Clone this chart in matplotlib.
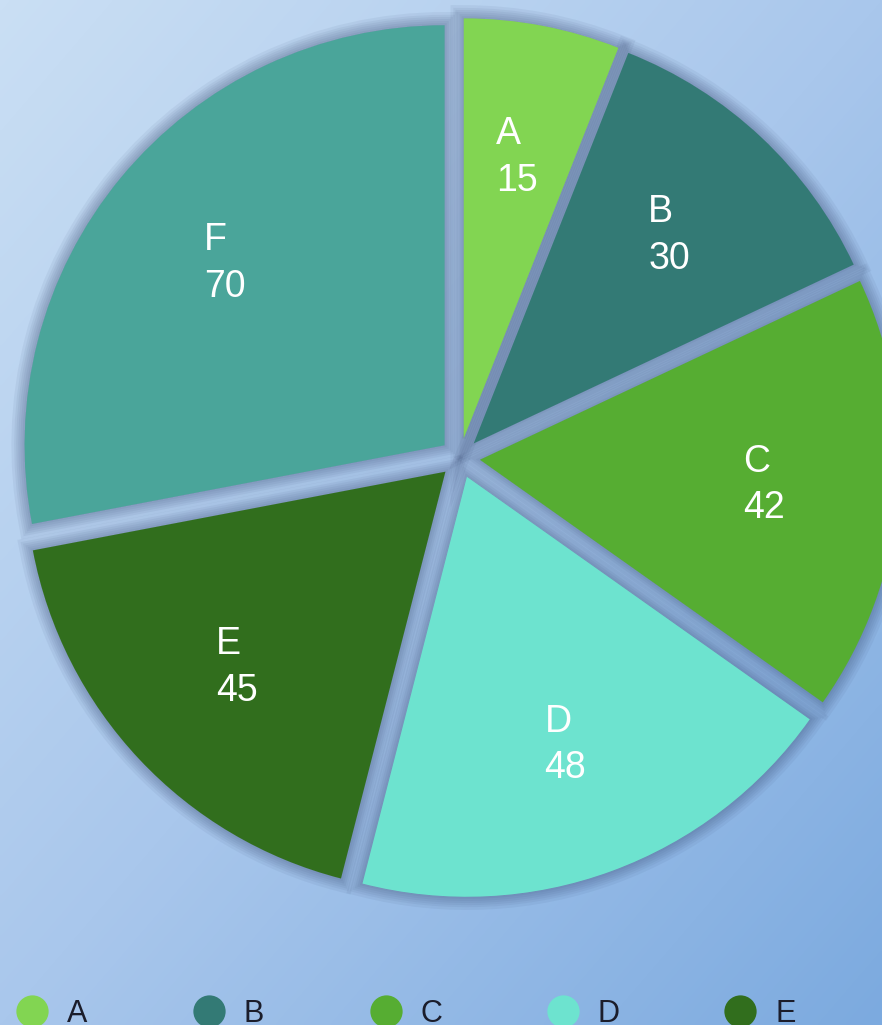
import numpy as np
import matplotlib.pyplot as plt
import matplotlib.patheffects as pe
from matplotlib.colors import LinearSegmentedColormap

# datos del grafico
categorias = ['A', 'B', 'C', 'D', 'E', 'F']
valores = [15, 30, 42, 48, 45, 70]
colores = ['#82d552', '#337a75', '#56ad32', '#6de3cf', '#316e1d', '#4aa59a']

W, H = 882, 1025
plt.rcParams['font.family'] = ['Liberation Sans', 'DejaVu Sans']

fig = plt.figure(figsize=(W / 100, H / 100), dpi=100)
ax = fig.add_axes([0, 0, 1, 1])

# fondo degradado diagonal
gx, gy = np.meshgrid(np.linspace(0, 1, 256), np.linspace(0, 1, 256))
fondo = LinearSegmentedColormap.from_list('fondo', ['#cadff4', '#a9c7ec', '#7caadf'])
ax.imshow((gx + gy) / 2, cmap=fondo, extent=(0, W, 0, H), origin='upper',
          aspect='auto', zorder=0, interpolation='bilinear')

centro = (460, H - 458)
radio = 420
separacion = [20] * len(valores)

# sombra suave de los sectores
sombra = [pe.Stroke(linewidth=lw, foreground='#33456d', alpha=0.065)
          for lw in (19, 15, 12, 9, 6, 3)]
ax.pie(valores, colors=['#8d9cc0'] * len(valores), startangle=90, counterclock=False,
       center=centro, radius=radio, explode=separacion, frame=True,
       wedgeprops=dict(linewidth=0, zorder=1, path_effects=sombra))

etiquetas = [f'{c}\n{v}' for c, v in zip(categorias, valores)]
wedges, textos = ax.pie(valores, colors=colores, labels=etiquetas, labeldistance=0.68,
                        startangle=90, counterclock=False, center=centro, radius=radio,
                        explode=separacion, frame=True,
                        wedgeprops=dict(linewidth=0, zorder=2),
                        textprops=dict(color='white', fontsize=27, linespacing=1.38))
for t in textos:
    t.set_ha('center')
    t.set_va('center')
    t.set_multialignment('left')
    t.set_zorder(3)

# leyenda (cortada por abajo y por la derecha, como en la original)
for i, (c, col) in enumerate(zip(categorias, colores)):
    x = 32 + 177 * i
    ax.scatter(x, H - 1011, s=540, color=col, zorder=4, linewidths=0)
    ax.text(x + 35, H - 1022, c, fontsize=22, color='#1b1d2b', ha='left',
            va='baseline', zorder=4)

ax.set_xlim(0, W)
ax.set_ylim(0, H)
ax.set_aspect('auto')
ax.axis('off')

plt.savefig('out.png', dpi=100)
